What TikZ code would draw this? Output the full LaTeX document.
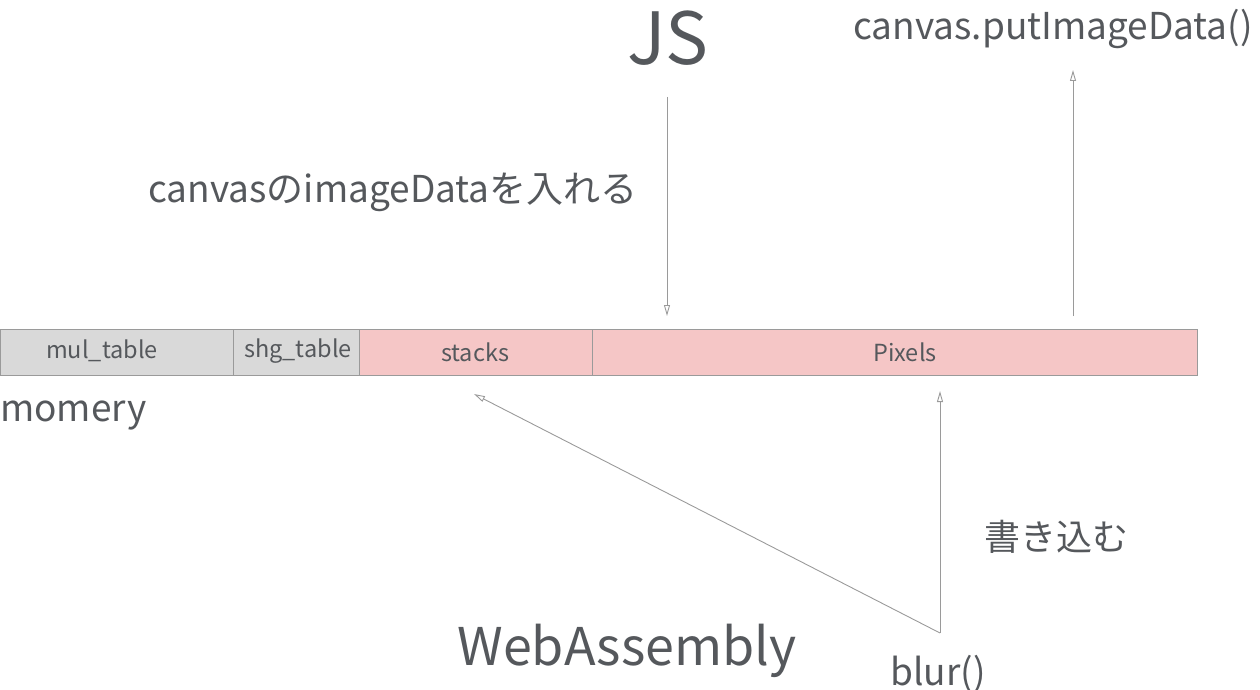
\documentclass[tikz,border=0pt]{standalone}
\usepackage{fontspec}
\setmainfont{Noto Sans CJK JP}
\usetikzlibrary{arrows.meta}
\definecolor{txt}{HTML}{55585C}
\definecolor{ln}{HTML}{9A9A9A}
\definecolor{graycell}{HTML}{D9D9D9}
\definecolor{pinkcell}{HTML}{F5C6C6}
\tikzset{
  cell/.style={draw=ln, line width=0.9pt, minimum height=46pt, inner sep=0pt, anchor=west},
  celltext/.style={text=txt, inner sep=0pt, font=\fontsize{23.5}{26}\selectfont},
  lbl/.style={text=txt, inner sep=0pt, font=\fontsize{37}{42}\selectfont},
  conn/.style={draw=ln, line width=0.9pt, -{Triangle[open,length=11pt,width=6pt]}}
}
\begin{document}
\begin{tikzpicture}[x=1pt,y=-1pt]
\useasboundingbox (0,0) rectangle (1260,690);
\node[cell, fill=graycell, minimum width=233pt] (mul) at (0,352) {};
\node[cell, fill=graycell, minimum width=126pt] (shg) at (233,352) {};
\node[cell, fill=pinkcell, minimum width=233pt] (stk) at (359,352) {};
\node[cell, fill=pinkcell, minimum width=605pt] (pix) at (592,352) {};
\node[celltext] (mult) at (102,351) {mul\_table};
\node[celltext] (shgt) at (298,351) {shg\_table};
\node[celltext] (stkt) at (475,352) {stacks};
\node[celltext] (pixt) at (905,352) {Pixels};

\node[lbl, font=\fontsize{72}{80}\selectfont] (js) at (668,38) {JS};
\node[lbl] (put) at (1053,29) {canvas.putImageData()};
\node[lbl] (ins) at (393,192) {canvasのimageDataを入れる};
\node[lbl, anchor=west] (mem) at (0,416) {momery};
\node[lbl, font=\fontsize{36}{40}\selectfont] (kaki) at (1056,537) {書き込む};
\node[lbl, font=\fontsize{52}{60}\selectfont] (wasm) at (627,651) {WebAssembly};
\node[lbl] (blur) at (938,674) {blur()};

\coordinate (jsA) at (667,97);
\coordinate (jsB) at (667,316);
\coordinate (pA) at (1073,316);
\coordinate (pB) at (1073,70);
\coordinate (bl) at (940,633);
\coordinate (blT) at (940,391);
\coordinate (stT) at (474,394);

\draw[conn] (jsA) -- (jsB);
\draw[conn] (pA) -- (pB);
\draw[conn] (bl) -- (blT);
\draw[conn] (bl) -- (stT);
\end{tikzpicture}
\end{document}
